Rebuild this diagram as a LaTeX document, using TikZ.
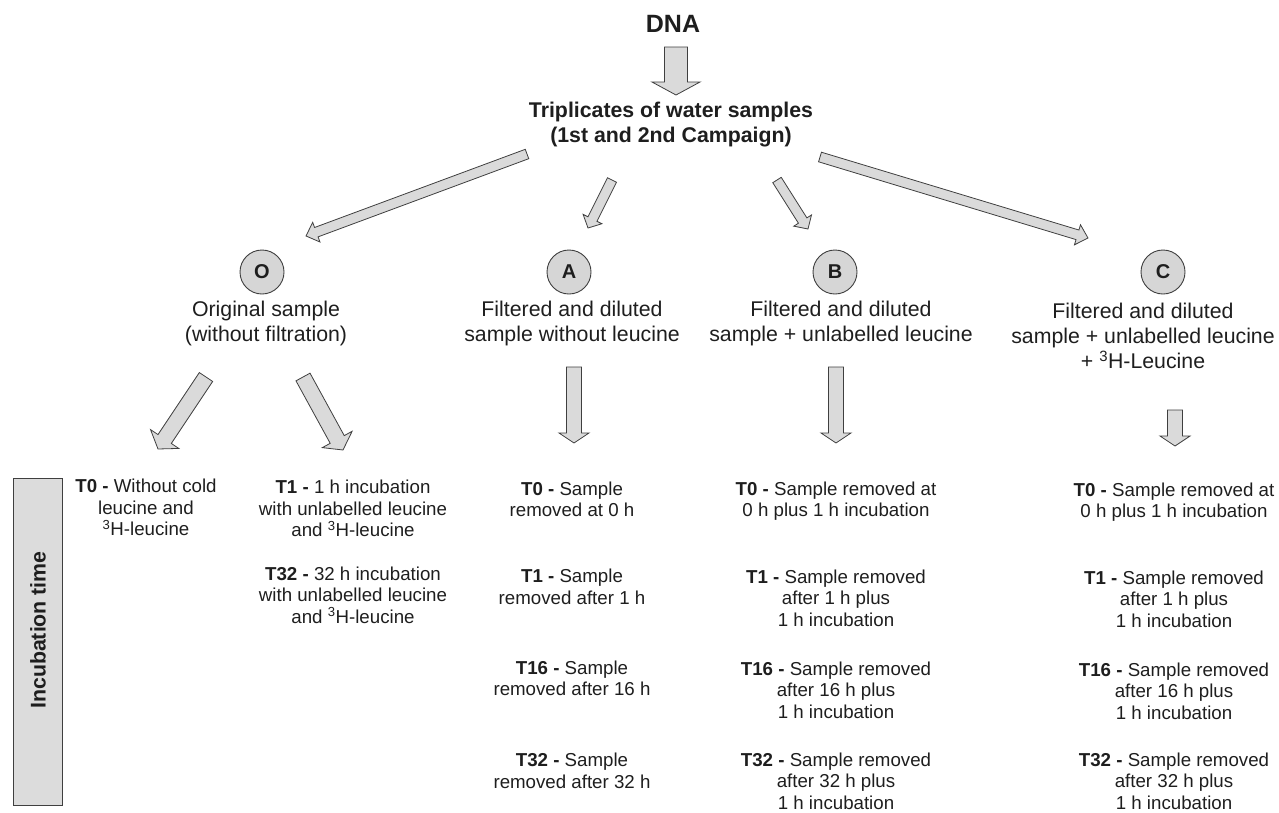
\documentclass[tikz,border=0pt]{standalone}
\usepackage{fontspec}
\setmainfont{Liberation Sans}
\usetikzlibrary{calc}
\definecolor{edge}{HTML}{3F3F3F}
\definecolor{arrfill}{HTML}{DADADA}
\definecolor{circfill}{HTML}{D6D6D6}
\definecolor{barfill}{HTML}{DCDCDC}
\definecolor{txt}{HTML}{1E1E1E}
\tikzset{
  every node/.style={text=txt, inner sep=0pt},
  dnalbl/.style={font=\fontsize{25}{29}\selectfont\bfseries},
  headlbl/.style={font=\fontsize{21.3}{25}\selectfont\bfseries, align=center},
  lbl/.style={font=\fontsize{21.3}{25}\selectfont, align=center},
  sub/.style={font=\fontsize{18.7}{21.5}\selectfont, align=center},
  letter/.style={circle, draw=edge, fill=circfill, line width=0.9pt, minimum size=44pt,
    font=\fontsize{20}{24}\selectfont\bfseries},
  barrowstyle/.style={draw=edge, fill=arrfill, line width=0.8pt, line join=miter},
  barbox/.style={draw=edge, fill=barfill, line width=0.9pt},
}
% block arrow: #1 start, #2 end, #3 shaft half width, #4 head half width, #5 head length
\newcommand{\blockarrow}[5]{%
  \path[barrowstyle] let \p1=(#1), \p2=(#2),
      \n1={atan2(\y2-\y1,\x2-\x1)}, \n2={veclen(\x2-\x1,\y2-\y1)}, \n3={\n2-#5} in
    [shift={(\p1)}, rotate=\n1]
    (0pt,{-#3*1pt}) -- ({\n3*1pt},{-#3*1pt}) -- ({\n3*1pt},{-#4*1pt}) -- ({\n2*1pt},0pt)
    -- ({\n3*1pt},{#4*1pt}) -- ({\n3*1pt},{#3*1pt}) -- (0pt,{#3*1pt}) -- cycle;
}
\begin{document}
\begin{tikzpicture}[x=1pt,y=-1pt]
\useasboundingbox (0,0) rectangle (1279,812);

% top
\node[dnalbl] (dna) at (673,24) {DNA};
\node[headlbl] (trip) at (671,124.5) {Triplicates of water samples\\(1st and 2nd Campaign)};

% circles
\node[letter] (cO) at (262,272) {O};
\node[letter] (cA) at (569,272) {A};
\node[letter] (cB) at (835,272) {B};
\node[letter] (cC) at (1163,272) {C};

% branch labels
\node[lbl] (tO) at (266,323) {Original sample\\(without filtration)};
\node[lbl] (tA) at (572,323) {Filtered and diluted\\sample without leucine};
\node[lbl] (tB) at (841,323) {Filtered and diluted\\sample + unlabelled leucine};
\node[lbl] (tC) at (1143,336) {Filtered and diluted\\sample + unlabelled leucine\\+ \textsuperscript{3}H-Leucine};

% arrow end points
\coordinate (dnaS) at (676,47);  \coordinate (dnaE) at (676,95);
\coordinate (oS) at (527,154);   \coordinate (oE) at (306,236);
\coordinate (aS) at (612,180);   \coordinate (aE) at (588,228);
\coordinate (bS) at (777,180);   \coordinate (bE) at (808,229);
\coordinate (cS) at (820,157);   \coordinate (cE) at (1088,238);
\coordinate (o1S) at (206,377);  \coordinate (o1E) at (158,449);
\coordinate (o2S) at (303,377);  \coordinate (o2E) at (343,450);
\coordinate (a2S) at (574,367);  \coordinate (a2E) at (574,443);
\coordinate (b2S) at (836,367);  \coordinate (b2E) at (836,443);
\coordinate (c2S) at (1175,410); \coordinate (c2E) at (1175,446);

\blockarrow{dnaS}{dnaE}{11.5}{24}{13}
\blockarrow{oS}{oE}{5}{10.5}{11}
\blockarrow{aS}{aE}{5}{10.5}{10}
\blockarrow{bS}{bE}{5}{10.5}{10}
\blockarrow{cS}{cE}{5}{10.5}{11}
\blockarrow{o1S}{o1E}{8}{17}{12}
\blockarrow{o2S}{o2E}{8}{17}{12}
\blockarrow{a2S}{a2E}{7.5}{15}{10}
\blockarrow{b2S}{b2E}{7.5}{15}{10}
\blockarrow{c2S}{c2E}{7.5}{15}{10}

% incubation bar
\node[barbox, minimum width=49pt, minimum height=327pt] (bar) at (38,641.5) {};
\node[rotate=90, font=\fontsize{21.3}{25}\selectfont\bfseries] (barlbl) at (38,630) {Incubation time};

% column O
\node[sub] (o0) at (146,507.5) {\textbf{T0 -} Without cold\\leucine and\\\textsuperscript{3}H-leucine};
\node[sub] (o1) at (353,508.5) {\textbf{T1 -} 1 h incubation\\with unlabelled leucine\\and \textsuperscript{3}H-leucine};
\node[sub] (o32) at (353,595) {\textbf{T32 -} 32 h incubation\\with unlabelled leucine\\and \textsuperscript{3}H-leucine};

% column A
\node[sub] (a0) at (572,499.5) {\textbf{T0 -} Sample\\removed at 0 h};
\node[sub] (a1) at (572,587) {\textbf{T1 -} Sample\\removed after 1 h};
\node[sub] (a16) at (572,678.5) {\textbf{T16 -} Sample\\removed after 16 h};
\node[sub] (a32) at (572,771) {\textbf{T32 -} Sample\\removed after 32 h};

% column B
\node[sub] (b0) at (836,501) {\textbf{T0 -} Sample removed at\\0 h plus 1 h incubation};
\node[sub] (b1) at (836,598) {\textbf{T1 -} Sample removed\\after 1 h plus\\1 h incubation};
\node[sub] (b16) at (836,690) {\textbf{T16 -} Sample removed\\after 16 h plus\\1 h incubation};
\node[sub] (b32) at (836,781) {\textbf{T32 -} Sample removed\\after 32 h plus\\1 h incubation};

% column C
\node[sub] (c0) at (1174,502) {\textbf{T0 -} Sample removed at\\0 h plus 1 h incubation};
\node[sub] (c1) at (1174,599) {\textbf{T1 -} Sample removed\\after 1 h plus\\1 h incubation};
\node[sub] (c16) at (1174,691) {\textbf{T16 -} Sample removed\\after 16 h plus\\1 h incubation};
\node[sub] (c32) at (1174,781) {\textbf{T32 -} Sample removed\\after 32 h plus\\1 h incubation};
\end{tikzpicture}
\end{document}
